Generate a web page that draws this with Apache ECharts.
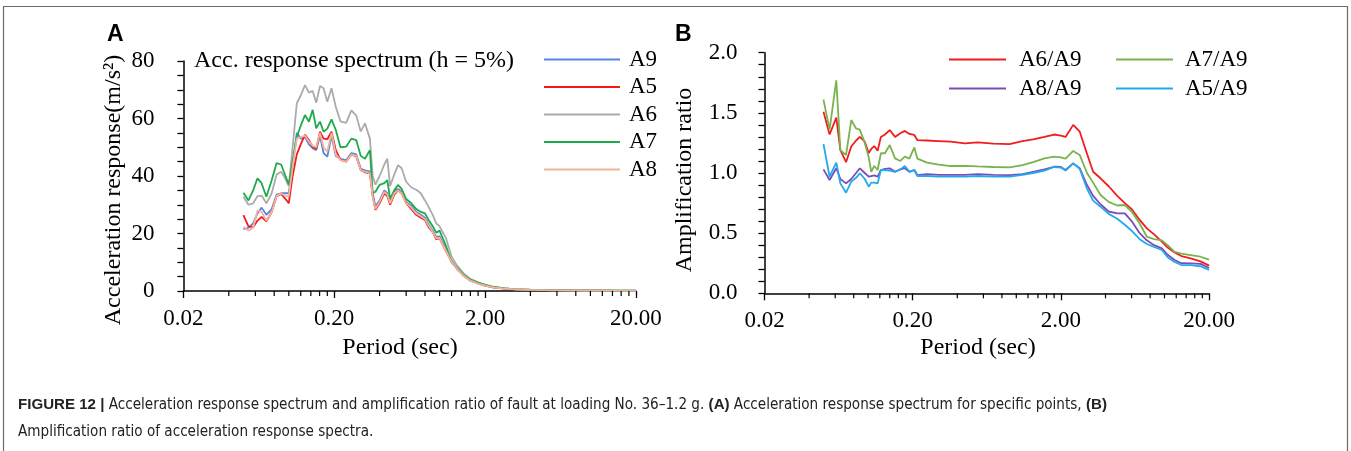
<!DOCTYPE html>
<html><head><meta charset="utf-8">
<script src="https://cdn.jsdelivr.net/npm/echarts@6/dist/echarts.min.js"></script>
<style>html,body{margin:0;padding:0;background:#fff}#c{width:1351px;height:451px}</style>
</head><body><div id="c"></div>
<script>
// ---------- data ----------
const periodsA = [0.050,0.054,0.058,0.062,0.066,0.071,0.077,0.083,0.089,0.095,0.100,0.106,0.113,0.120,0.128,0.136,0.144,0.152,0.161,0.170,0.180,0.192,0.205,0.220,0.240,0.260,0.280,0.300,0.320,0.345,0.360,0.375,0.400,0.430,0.450,0.470,0.500,0.530,0.560,0.600,0.650,0.700,0.750,0.800,0.850,0.900,0.950,1.000,1.100,1.200,1.300,1.450,1.600,1.800,2.000,2.300,2.700,3.200,4.000,5.000,7.000,10.00,14.00,20.00];
const A9 = [21.5,22,23.5,27,29,26.5,28.5,33.5,34,34, 34,44,55,53,53.5,51,49.7,49,54,48, 46.7,54,47,46,45.5,48,47.5,42.5,42,41.5, 34,29.5,31.5,35,34,31,34.5,35.5,34.5,31, 29.5,27.5,26.5,25.5,23,21,18.8,19,14.5,10.5, 8,5.4,3.8,2.7,2,1.3,0.9,0.6,0.45,0.35, 0.25,0.2,0.15,0.12];
const A5 = [26.4,22.5,22.2,24.5,25.8,24.2,27.5,33,33.8,32, 30.5,40,47.5,51,54.3,52.5,50,49.5,55.4,53, 52.8,55.4,49,45.6,45,47.5,46.8,42,41.3,40.9, 33,28.2,30.5,34,33,30,33.5,35,34,30.5, 28.5,26.5,25.5,24.7,22,20.5,18,18.3,14,10.2, 7.8,5.2,3.6,2.6,1.9,1.2,0.8,0.55,0.4,0.3, 0.2,0.15,0.1,0.07];
const A6 = [32.8,30,30.5,33,33.2,30.5,34,40.5,41.5,39, 36.5,50,65.3,68,71.6,69,69.6,65.5,71.3,70.5, 65.8,70.5,64,59,58.5,62.8,61,55.5,58.3,53, 40,37,40,44,46,36.5,40.5,43.8,42.7,38, 36,35.2,34,31.5,29,26.5,23.5,22.5,18.5,12, 9,6,4.2,3,2.2,1.4,0.9,0.6,0.4,0.3, 0.2,0.15,0.1,0.08];
const A7 = [34.2,31.5,35,39.2,37.5,32.8,38.5,44.5,44,40, 37,45,53.7,57.5,61.2,58.9,63,56.6,58.9,55.4, 56.5,59.7,56,50,50.2,53,52.5,47,46,49, 34,34.5,36.9,37.5,38.6,32,35,36.9,35.5,32, 30.5,28.5,27.5,27,24.5,22.5,20.3,21,15.8,10, 8,5.5,3.9,2.9,2.1,1.3,0.9,0.6,0.4,0.3, 0.2,0.15,0.1,0.08];
const A8 = [22.3,21,22,28,27.5,24.5,27.5,33,34,33, 33,43,53,53.5,54,52,50.5,50,55,50, 48.5,55,47.5,45.5,45,47.5,47,42,41.5,41, 33,28.5,31,34.5,33.5,30.5,34,35,34,30.5, 29,27,26,25,22.5,20.5,18.3,18.5,14,10.2, 7.8,5.2,3.6,2.6,1.9,1.2,0.8,0.55,0.4,0.3, 0.2,0.15,0.1,0.07];

const periodsB = [0.050,0.055,0.061,0.065,0.071,0.077,0.083,0.088,0.095,0.101,0.105,0.110,0.116,0.122,0.130,0.140,0.152,0.165,0.177,0.190,0.205,0.215,0.25,0.30,0.36,0.45,0.55,0.70,0.90,1.10,1.30,1.55,1.80,2.00,2.15,2.42,2.68,3.0,3.3,3.7,4.2,4.8,5.4,6.0,6.8,7.6,8.5,9.6,10.5,11.7,13,15,17.5,20];
const A6_A9 = [1.51,1.32,1.46,1.19,1.09,1.22,1.27,1.30,1.26,1.165, 1.20,1.224,1.185,1.30,1.32,1.357,1.30,1.33,1.35,1.325, 1.316,1.274,1.27,1.265,1.26,1.247,1.255,1.245,1.24,1.265, 1.28,1.30,1.32,1.31,1.30,1.40,1.343,1.16,1.01,0.956, 0.89,0.81,0.75,0.70,0.61,0.54,0.49,0.43,0.38,0.34, 0.31,0.29,0.265,0.23];
const A7_A9 = [1.61,1.36,1.77,1.19,1.15,1.44,1.37,1.36,1.25,1.13, 1.01,1.058,1.025,1.164,1.164,1.233,1.122,1.10,1.136,1.12, 1.213,1.12,1.086,1.07,1.058,1.06,1.055,1.05,1.047,1.065, 1.09,1.122,1.136,1.13,1.12,1.183,1.15,1.00,0.92,0.817, 0.76,0.73,0.734,0.68,0.58,0.47,0.45,0.44,0.40,0.345, 0.33,0.318,0.304,0.28];
const A8_A9 = [1.03,0.942,1.04,0.95,0.914,0.95,1.0,1.039,1.0,0.97, 0.975,0.98,0.97,1.025,1.035,1.039,1.01,1.03,1.04,1.01, 1.025,0.983,0.99,0.985,0.985,0.985,0.99,0.985,0.983,0.99, 1.01,1.03,1.052,1.05,1.025,1.08,1.039,0.90,0.81,0.74, 0.68,0.665,0.665,0.60,0.50,0.44,0.40,0.374,0.32,0.277, 0.25,0.249,0.245,0.21];
const A5_A9 = [1.241,0.969,1.086,0.914,0.836,0.928,0.96,0.998,0.95,0.886, 0.92,0.92,0.914,1.025,1.025,1.02,1.01,1.03,1.058,1.01, 1.025,0.975,0.975,0.97,0.97,0.97,0.975,0.97,0.97,0.985, 1.0,1.02,1.05,1.045,1.02,1.08,1.035,0.87,0.77,0.72, 0.66,0.62,0.57,0.52,0.45,0.41,0.385,0.36,0.30,0.26, 0.235,0.235,0.225,0.195];

const xTickLabels = ['0.02','0.20','2.00','20.00'];
const minorPeriods = [0.04,0.06,0.08,0.10,0.12,0.14,0.16,0.18, 0.4,0.6,0.8,1.0,1.2,1.4,1.6,1.8, 4,6,8,10,12,14,16,18];
const seriesNamesA = ['A9','A5','A6','A7','A8'];
const seriesNamesB = ['A6/A9','A7/A9','A8/A9','A5/A9'];

// ---------- chart ----------
const T0 = 0.02;
const lx = t => Math.log10(t / T0);
const serif = 'Liberation Serif, Times New Roman, serif';
const colorsA = {A9:'#5586DB', A5:'#F41A1A', A6:'#ABABAB', A7:'#1EAA4B', A8:'#F2B49C'};
const colorsB = {'A6/A9':'#F21C1C','A7/A9':'#7AB24E','A8/A9':'#7B4DB5','A5/A9':'#22A9EE'};
const valsA = {A9, A5, A6, A7, A8};
const valsB = {'A6/A9':A6_A9,'A7/A9':A7_A9,'A8/A9':A8_A9,'A5/A9':A5_A9};

function xAxisCfg(idx){
  return {gridIndex: idx, type:'value', min:0, max:3, interval:1,
    axisLine:{show:true, lineStyle:{color:'#000', width:1.5}},
    axisTick:{show:true, inside:false, length:7, lineStyle:{color:'#000', width:1.3}},
    axisLabel:{margin:16, color:'#000', fontFamily:serif, fontSize:23, formatter:v=>xTickLabels[Math.round(v)]},
    splitLine:{show:false}};
}
function minorTickSeries(idx){
  return {type:'custom', xAxisIndex:idx, yAxisIndex:idx, silent:true, clip:false, z:5,
    data: minorPeriods.map(t=>[lx(t),0]),
    renderItem:(params, api)=>{
      const p = api.coord([api.value(0), api.value(1)]);
      return {type:'line', shape:{x1:p[0], y1:p[1], x2:p[0], y2:p[1]+5}, style:{stroke:'#000', lineWidth:1.2}};
    }};
}

const seriesA = seriesNamesA.map(n=>({name:n, type:'line', xAxisIndex:0, yAxisIndex:0,
  data: periodsA.map((t,i)=>[lx(t), valsA[n][i]]), showSymbol:false, symbol:'none',
  lineStyle:{color:colorsA[n], width:1.8}, itemStyle:{color:colorsA[n]}}));
const seriesB = seriesNamesB.map(n=>({name:n, type:'line', xAxisIndex:1, yAxisIndex:1,
  data: periodsB.map((t,i)=>[lx(t), valsB[n][i]]), showSymbol:false, symbol:'none',
  lineStyle:{color:colorsB[n], width:1.8}, itemStyle:{color:colorsB[n]}}));

const legendText = {color:'#000', fontFamily:serif, fontSize:23, lineHeight:22, padding:[0,0,0,3]};
const option = {
  animation:false,
  backgroundColor:'#fff',
  grid:[
    {left:183.4, right:1351-635.8, top:61, bottom:451-291},
    {left:764.5, right:1351-1209.1, top:52.7, bottom:451-293.3}
  ],
  xAxis:[xAxisCfg(0), xAxisCfg(1)],
  yAxis:[
    {gridIndex:0, type:'value', min:0, max:80, interval:20,
      axisLine:{show:true, lineStyle:{color:'#000', width:1.5}},
      axisTick:{show:true, length:6, lineStyle:{color:'#000', width:1.3}},
      minorTick:{show:true, splitNumber:4, length:6, lineStyle:{color:'#000', width:1.3}},
      axisLabel:{margin:29, color:'#000', fontFamily:serif, fontSize:23},
      splitLine:{show:false}},
    {gridIndex:1, type:'value', min:0, max:2, interval:0.5,
      axisLine:{show:true, lineStyle:{color:'#000', width:1.5}},
      axisTick:{show:true, length:6, lineStyle:{color:'#000', width:1.3}},
      minorTick:{show:true, splitNumber:5, length:6, lineStyle:{color:'#000', width:1.3}},
      axisLabel:{margin:27, color:'#000', fontFamily:serif, fontSize:23, formatter:v=>v.toFixed(1)},
      splitLine:{show:false}}
  ],
  legend:[
    {data:seriesNamesA, orient:'vertical', left:544, top:48, padding:0, itemWidth:76, itemHeight:2, itemGap:4.5,
      icon:'rect', textStyle:Object.assign({}, legendText, {padding:[0,0,0,4]})},
    {data:['A6/A9','A8/A9'], orient:'vertical', left:949, top:48, padding:0, itemWidth:57, itemHeight:2, itemGap:6,
      icon:'rect', textStyle:Object.assign({}, legendText, {padding:[0,0,0,8]})},
    {data:['A7/A9','A5/A9'], orient:'vertical', left:1116, top:48, padding:0, itemWidth:57, itemHeight:2, itemGap:6,
      icon:'rect', textStyle:Object.assign({}, legendText, {padding:[0,0,0,7]})}
  ],
  series:[...seriesA, ...seriesB, minorTickSeries(0), minorTickSeries(1)],
  graphic:[
    {type:'polyline', silent:true, shape:{points:[[3.5,460],[3.5,6.5],[1347.5,6.5],[1347.5,460]]}, style:{stroke:'#6b6b6b', lineWidth:1.2, fill:null}},
    {type:'text', left:107, top:23, style:{text:'A', font:'bold 23px "Liberation Sans", Arial, sans-serif', fill:'#000'}},
    {type:'text', left:675, top:23, style:{text:'B', font:'bold 23px "Liberation Sans", Arial, sans-serif', fill:'#000'}},
    {type:'text', x:194, y:61, style:{text:'Acc. response spectrum (h = 5%)', font:'24px '+serif, fill:'#000', textVerticalAlign:'middle'}},
    {type:'text', x:400, y:348, style:{text:'Period (sec)', font:'24px '+serif, fill:'#000', textAlign:'center', textVerticalAlign:'middle'}},
    {type:'text', x:978, y:348, style:{text:'Period (sec)', font:'24px '+serif, fill:'#000', textAlign:'center', textVerticalAlign:'middle'}},
    {type:'text', x:114, y:190, rotation:Math.PI/2, style:{text:'Acceleration response(m/s\u00B2)', font:'24px '+serif, fill:'#000', textAlign:'center', textVerticalAlign:'middle'}},
    {type:'text', x:685, y:180, rotation:Math.PI/2, style:{text:'Amplification ratio', font:'24px '+serif, fill:'#000', textAlign:'center', textVerticalAlign:'middle'}},
    {type:'text', x:18, y:405, style:{
      text:'{b|FIGURE 12 |} Acceleration response spectrum and amplification ratio of fault at loading No. 36\u20131.2 g. {b|(A)} Acceleration response spectrum for specific points, {b|(B)}',
      font:'15.1px "Liberation Sans Narrow", "Arial Narrow", "DejaVu Sans Condensed", sans-serif', fill:'#222', textVerticalAlign:'middle',
      rich:{b:{fontWeight:'bold', fontFamily:'"Liberation Sans Narrow", "Arial Narrow", sans-serif', fontSize:15.1, fill:'#222'}}}},
    {type:'text', x:18, y:432, style:{text:'Amplification ratio of acceleration response spectra.',
      font:'15.1px "Liberation Sans Narrow", "Arial Narrow", "DejaVu Sans Condensed", sans-serif', fill:'#222', textVerticalAlign:'middle'}}
  ]
};
const chart = echarts.init(document.getElementById('c'), null, {renderer:'canvas'});
chart.setOption(option);
</script>
</body></html>
